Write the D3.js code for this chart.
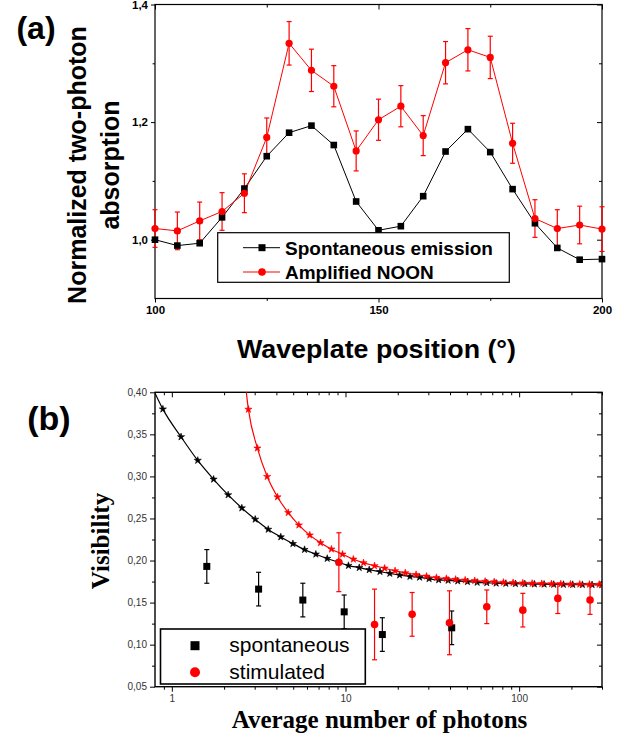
<!DOCTYPE html>
<html>
<head>
<meta charset="utf-8">
<script src="https://cdn.jsdelivr.net/npm/d3@7"></script>
<style>
  body { margin: 0; background: #fff; }
  svg { display: block; }
  text { font-family: "Liberation Sans", Arial, sans-serif; }
  .serif { font-family: "Liberation Serif", "Times New Roman", serif; }
</style>
</head>
<body>
<svg id="chart" width="639" height="740"></svg>
<script>
// ---- panel (a) data ----
const wavePos = [100, 105, 110, 115, 120, 125, 130, 135, 140, 145, 150,
  155, 160, 165, 170, 175, 180, 185, 190, 195, 200];
const spontA = [1.000, 0.990, 0.994, 1.038, 1.087, 1.142, 1.182, 1.194, 1.161, 1.065, 1.016,
  1.023, 1.074, 1.150, 1.188, 1.149, 1.086, 1.028, 0.986, 0.966, 0.967];
const noonA = [1.019, 1.015, 1.032, 1.048, 1.079, 1.174, 1.334, 1.288, 1.261, 1.151, 1.204,
  1.227, 1.177, 1.301, 1.323, 1.310, 1.164, 1.036, 1.019, 1.025, 1.018];
const noonErr = [0.032, 0.032, 0.032, 0.032, 0.033, 0.033, 0.037, 0.036, 0.035, 0.034, 0.035,
  0.035, 0.034, 0.036, 0.036, 0.036, 0.034, 0.032, 0.032, 0.032, 0.038];
const aTicksMajorX = [100, 150, 200];
const aTicksMinorX = [125, 175];
const aTicksMajorY = [1.0, 1.2, 1.4];
const aTicksMinorY = [1.1, 1.3];

// ---- panel (b) data ----
const spontN = [1.59, 3.16, 5.68, 9.83, 16.3, 40.9];
const spontV = [0.193, 0.166, 0.153, 0.139, 0.112, 0.120];
const spontErr = [0.020, 0.020, 0.020, 0.020, 0.020, 0.020];
const stimN = [9.16, 14.7, 24.2, 39.7, 65.1, 105, 167, 256];
const stimV = [0.198, 0.124, 0.136, 0.126, 0.145, 0.141, 0.155, 0.153];
const stimErr = [0.035, 0.042, 0.026, 0.038, 0.020, 0.020, 0.018, 0.017];

// fitted curves (first entry is where the curve enters the frame)
const fitSpontN = [0.8, 0.888, 1.13, 1.41, 1.74, 2.11, 2.53, 3.02, 3.59, 4.24, 4.98, 5.81, 6.75,
  7.85, 9.12, 10.4, 12.0, 13.7, 15.8, 18.0, 20.5, 23.5, 26.7, 30.3, 34.4, 39.0, 44.3,
  50.4, 57.3, 65.1, 73.7, 83.8, 95.2, 107.8, 122.4, 139.2, 158.2, 179.9, 203.5, 231.3, 263.0, 299];
const fitSpontV = [0.399, 0.380, 0.347, 0.319, 0.2966, 0.278, 0.2624, 0.249, 0.237, 0.228, 0.220,
  0.213, 0.2075, 0.2024, 0.198, 0.194, 0.1915, 0.1890, 0.1868, 0.1846, 0.1827, 0.1810,
  0.1800, 0.1783, 0.1770, 0.1764, 0.1756, 0.1748, 0.1740, 0.1735, 0.1730, 0.1727, 0.1724,
  0.1722, 0.1720, 0.1718, 0.1716, 0.1715, 0.1714, 0.1713, 0.1712, 0.1711];
const fitStimN = [2.62, 2.76, 3.11, 3.54, 4.06, 4.68, 5.39, 6.23, 7.18, 8.30, 9.61, 11.1, 12.7,
  14.7, 16.8, 19.3, 22.1, 25.5, 29.3, 33.4, 38.1, 43.1, 48.9, 55.5, 63.7, 71.8, 81.2,
  92.3, 105, 118.8, 135, 153.5, 173.7, 197.4, 223.4, 254, 289];
const fitStimV = [0.420, 0.3797, 0.3336, 0.2998, 0.2755, 0.2569, 0.2421, 0.2302, 0.2211, 0.2135,
  0.2075, 0.2015, 0.1972, 0.1937, 0.1908, 0.1877, 0.1853, 0.1833, 0.1813, 0.1797, 0.1785,
  0.1776, 0.1767, 0.1760, 0.1752, 0.1746, 0.1740, 0.1736, 0.1732, 0.1728, 0.1725, 0.1723,
  0.1721, 0.1719, 0.1718, 0.1717, 0.1716];
const bTicksMajorY = [0.05, 0.10, 0.15, 0.20, 0.25, 0.30, 0.35, 0.40];
const bTicksMinorY = [0.075, 0.125, 0.175, 0.225, 0.275, 0.325, 0.375];
const bTicksMajorX = [1, 10, 100];
const bTicksMinorX = [0.9, 2, 3, 4, 5, 6, 7, 8, 9, 20, 30, 40, 50, 60, 70, 80, 90, 200, 300];

const RED = "#ff0000";
const svg = d3.select("#chart");
const comma = f => d3.format(f)
const fmtComma = spec => v => d3.format(spec)(v).replace(".", ",");

// draw a framed plot box with ticks on all four sides
function drawFrame(g, x, y, opt) {
  const [x0, x1] = x.range();
  const [y0, y1] = y.range();

  const bottom = d3.axisBottom(x).tickValues(opt.majorX).tickSize(opt.tickOut)
    .tickFormat(opt.fmtX).tickPadding(3);
  const bottomMinor = d3.axisBottom(x).tickValues(opt.minorX).tickSize(opt.tickOut * 0.6).tickFormat("");
  const left = d3.axisLeft(y).tickValues(opt.majorY).tickSize(opt.tickOut)
    .tickFormat(opt.fmtY).tickPadding(3);
  const leftMinor = d3.axisLeft(y).tickValues(opt.minorY).tickSize(opt.tickOut * 0.6).tickFormat("");
  const top = d3.axisBottom(x).tickValues(opt.majorX).tickSize(opt.tickIn).tickFormat("");
  const topMinor = d3.axisBottom(x).tickValues(opt.minorX).tickSize(opt.tickIn * 0.6).tickFormat("");
  const right = d3.axisLeft(y).tickValues(opt.majorY).tickSize(opt.tickIn).tickFormat("");
  const rightMinor = d3.axisLeft(y).tickValues(opt.minorY).tickSize(opt.tickIn * 0.6).tickFormat("");

  const axes = [
    [bottom, `translate(0,${y0})`],
    [bottomMinor, `translate(0,${y0})`],
    [left, `translate(${x0},0)`],
    [leftMinor, `translate(${x0},0)`],
    [top, `translate(0,${y1})`],
    [topMinor, `translate(0,${y1})`],
    [right, `translate(${x1},0)`],
    [rightMinor, `translate(${x1},0)`]
  ];
  axes.forEach(([ax, tr]) => {
    const a = g.append("g").attr("transform", tr).call(ax);
    a.select(".domain").remove();
    a.selectAll("line").attr("stroke", "#000").attr("stroke-width", 1);
    a.selectAll("text")
      .attr("fill", opt.labelColor)
      .attr("font-size", opt.labelSize)
      .attr("font-weight", opt.labelWeight)
      .attr("font-family", "Liberation Sans, Arial, sans-serif");
  });

  g.append("rect")
    .attr("x", x0).attr("y", y1)
    .attr("width", x1 - x0).attr("height", y0 - y1)
    .attr("fill", "none").attr("stroke", "#000").attr("stroke-width", opt.frameWidth);
}

// error bars with caps
function errorBars(g, xs, ys, errs, x, y, color, cap) {
  const idx = d3.range(xs.length);
  const eb = g.append("g").attr("stroke", color).attr("stroke-width", 1.2);
  eb.selectAll(".v").data(idx).join("line")
    .attr("x1", i => x(xs[i])).attr("x2", i => x(xs[i]))
    .attr("y1", i => y(ys[i] - errs[i])).attr("y2", i => y(ys[i] + errs[i]));
  [1, -1].forEach(s => {
    eb.selectAll(".c" + s).data(idx).join("line")
      .attr("x1", i => x(xs[i]) - cap).attr("x2", i => x(xs[i]) + cap)
      .attr("y1", i => y(ys[i] + s * errs[i])).attr("y2", i => y(ys[i] + s * errs[i]));
  });
}

//* Panel (a)
const xA = d3.scaleLinear().domain([100, 200]).range([155, 602]);
const yA = d3.scaleLinear().domain([0.9, 1.4]).range([298.5, 4.5]);
const gA = svg.append("g");

drawFrame(gA, xA, yA, {
  majorX: aTicksMajorX, minorX: aTicksMinorX,
  majorY: aTicksMajorY, minorY: aTicksMinorY,
  fmtX: d3.format("d"), fmtY: fmtComma(".1f"),
  tickOut: 4, tickIn: 5, labelSize: 11.5, labelWeight: "bold",
  labelColor: "#000", frameWidth: 1.2
});

const lineA = d3.line().x((d, i) => xA(wavePos[i])).y(d => yA(d));

errorBars(gA, wavePos, noonA, noonErr, xA, yA, RED, 2.5);

gA.append("path").datum(spontA).attr("d", lineA)
  .attr("fill", "none").attr("stroke", "#000").attr("stroke-width", 1);
gA.append("path").datum(noonA).attr("d", lineA)
  .attr("fill", "none").attr("stroke", RED).attr("stroke-width", 1);

gA.selectAll(".sq").data(spontA).join("rect")
  .attr("x", (d, i) => xA(wavePos[i]) - 3.3).attr("y", d => yA(d) - 3.3)
  .attr("width", 6.6).attr("height", 6.6).attr("fill", "#000");
gA.selectAll(".ci").data(noonA).join("circle")
  .attr("cx", (d, i) => xA(wavePos[i])).attr("cy", d => yA(d))
  .attr("r", 3.6).attr("fill", RED);

// legend (a)
const legA = gA.append("g");
legA.append("rect").attr("x", 217.7).attr("y", 232.7).attr("width", 291.6).attr("height", 49.6)
  .attr("fill", "#fff").attr("stroke", "#000").attr("stroke-width", 1.2);
[["Spontaneous emission", "#000", "rect"], ["Amplified NOON", RED, "circle"]].forEach(([label, c, shape], i) => {
  const cy = 247.7 + i * 24.3;
  legA.append("line").attr("x1", 243).attr("x2", 280).attr("y1", cy).attr("y2", cy)
    .attr("stroke", c).attr("stroke-width", 1);
  if (shape === "rect") {
    legA.append("rect").attr("x", 258.5).attr("y", cy - 3.5).attr("width", 7).attr("height", 7).attr("fill", c);
  } else {
    legA.append("circle").attr("cx", 262).attr("cy", cy).attr("r", 3.8).attr("fill", c);
  }
  legA.append("text").attr("x", 285).attr("y", cy + 6.8)
    .attr("font-size", 19).attr("font-weight", "bold").text(label);
});

// labels (a)
svg.append("text").attr("x", 376.5).attr("y", 358)
  .attr("text-anchor", "middle").attr("font-size", 25).attr("font-weight", "bold")
  .attr("textLength", 279).attr("lengthAdjust", "spacingAndGlyphs")
  .text("Waveplate position (°)");

const yLabA = svg.append("text")
  .attr("transform", "translate(0,165) rotate(-90)")
  .attr("text-anchor", "middle").attr("font-size", 25).attr("font-weight", "bold");
yLabA.append("tspan").attr("x", 0).attr("y", 86).text("Normalized two-photon");
yLabA.append("tspan").attr("x", 0).attr("y", 119).text("absorption");

svg.append("text").attr("x", 36).attr("y", 39)
  .attr("text-anchor", "middle").attr("font-size", 32).attr("font-weight", "bold").text("(a)");

//* Panel (b)
const xB = d3.scaleLog().domain([0.8, 300]).range([155, 602]);
const yB = d3.scaleLinear().domain([0.05, 0.40]).range([686.7, 392.3]);
const gB = svg.append("g");

svg.append("clipPath").attr("id", "clipB").append("rect")
  .attr("x", 155).attr("y", 392.3).attr("width", 447).attr("height", 294.4);

drawFrame(gB, xB, yB, {
  majorX: bTicksMajorX, minorX: bTicksMinorX,
  majorY: bTicksMajorY, minorY: bTicksMinorY,
  fmtX: d3.format("d"), fmtY: fmtComma(".2f"),
  tickOut: 5, tickIn: 5, labelSize: 10, labelWeight: "normal",
  labelColor: "#333", frameWidth: 1.4
});

const fitLayer = gB.append("g").attr("clip-path", "url(#clipB)");
const star = d3.symbol().type(d3.symbolStar).size(16);

function drawFit(ns, vs, color) {
  const pts = ns.map((n, i) => [n, vs[i]]);
  fitLayer.append("path").datum(pts)
    .attr("d", d3.line().curve(d3.curveMonotoneX).x(d => xB(d[0])).y(d => yB(d[1])))
    .attr("fill", "none").attr("stroke", color).attr("stroke-width", 1.2);
  fitLayer.selectAll(null).data(pts.slice(1)).join("path")
    .attr("d", star)
    .attr("transform", d => `translate(${xB(d[0])},${yB(d[1])})`)
    .attr("fill", color).attr("stroke", color).attr("stroke-width", 0.6);
}
drawFit(fitSpontN, fitSpontV, "#000");
drawFit(fitStimN, fitStimV, RED);

errorBars(gB, spontN, spontV, spontErr, xB, yB, "#000", 2.5);
errorBars(gB, stimN, stimV, stimErr, xB, yB, RED, 2.5);

gB.selectAll(".bsq").data(spontV).join("rect")
  .attr("x", (d, i) => xB(spontN[i]) - 3.5).attr("y", d => yB(d) - 3.5)
  .attr("width", 7).attr("height", 7).attr("fill", "#000");
gB.selectAll(".bci").data(stimV).join("circle")
  .attr("cx", (d, i) => xB(stimN[i])).attr("cy", d => yB(d))
  .attr("r", 3.8).attr("fill", RED);

// legend (b)
const legB = gB.append("g");
legB.append("rect").attr("x", 160.5).attr("y", 629).attr("width", 204.8).attr("height", 55)
  .attr("fill", "#fff").attr("stroke", "#000").attr("stroke-width", 1.6);
legB.append("rect").attr("x", 190.5).attr("y", 641.2).attr("width", 9).attr("height", 9).attr("fill", "#000");
legB.append("circle").attr("cx", 195).attr("cy", 672.3).attr("r", 5).attr("fill", RED);
legB.append("text").attr("x", 229.3).attr("y", 652).attr("font-size", 21).text("spontaneous");
legB.append("text").attr("x", 229.3).attr("y", 679).attr("font-size", 21).text("stimulated");

// labels (b)
svg.append("text").attr("class", "serif").attr("x", 379.5).attr("y", 728)
  .attr("text-anchor", "middle").attr("font-size", 25).attr("font-weight", "bold")
  .text("Average number of photons");
svg.append("text").attr("class", "serif")
  .attr("transform", "translate(109,541) rotate(-90)")
  .attr("text-anchor", "middle").attr("font-size", 25).attr("font-weight", "bold")
  .text("Visibility");
svg.append("text").attr("x", 49).attr("y", 430)
  .attr("text-anchor", "middle").attr("font-size", 34).attr("font-weight", "bold").text("(b)");
</script>
</body>
</html>
